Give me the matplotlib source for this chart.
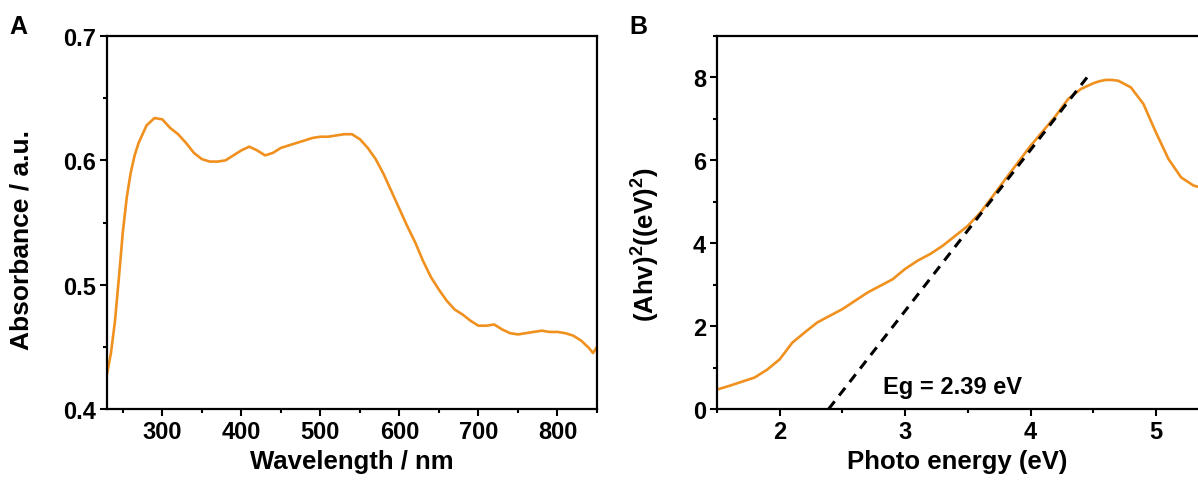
import matplotlib
matplotlib.use('Agg')
from matplotlib import pyplot as plt
from matplotlib.ticker import MultipleLocator

plt.rcParams['font.family'] = ['Liberation Sans', 'DejaVu Sans']
plt.rcParams['font.weight'] = 'bold'
plt.rcParams['mathtext.fontset'] = 'custom'
plt.rcParams['mathtext.rm'] = 'Liberation Sans:bold'
plt.rcParams['mathtext.bf'] = 'Liberation Sans:bold'

# panel A: UV-vis absorbance
wavelength = [230, 235, 240, 245, 250, 255, 260, 265, 270, 280, 290, 300, 310, 320, 330, 340,
              350, 360, 370, 380, 390, 400, 410, 420, 430, 440, 450, 460, 470, 480,
              490, 500, 510, 520, 530, 540, 550, 560, 570, 580, 590, 600, 610, 620,
              630, 640, 650, 660, 670, 680, 690, 700, 710, 720, 730, 740, 750, 760,
              770, 780, 790, 800, 810, 820, 830, 840, 845, 850]
absorbance = [0.428, 0.445, 0.47, 0.505, 0.542, 0.570, 0.590, 0.604, 0.614, 0.628, 0.634, 0.633,
              0.626, 0.621, 0.614, 0.606, 0.601, 0.599, 0.599, 0.600, 0.604, 0.608,
              0.611, 0.608, 0.604, 0.606, 0.610, 0.612, 0.614, 0.616, 0.618, 0.619,
              0.619, 0.620, 0.621, 0.621, 0.617, 0.610, 0.601, 0.589, 0.575, 0.561,
              0.547, 0.534, 0.519, 0.506, 0.496, 0.487, 0.480, 0.476, 0.471, 0.467,
              0.467, 0.468, 0.464, 0.461, 0.460, 0.461, 0.462, 0.463, 0.462, 0.462,
              0.461, 0.459, 0.455, 0.449, 0.445, 0.450]

# panel B: Tauc plot
energy = [1.5, 1.6, 1.7, 1.8, 1.9, 2.0, 2.1, 2.2, 2.3, 2.4, 2.5, 2.6, 2.7, 2.8, 2.9,
          3.0, 3.1, 3.2, 3.3, 3.4, 3.5, 3.6, 3.7, 3.8, 3.9, 4.0, 4.1, 4.2, 4.3, 4.4,
          4.5, 4.55, 4.6, 4.65, 4.7, 4.8, 4.9, 5.0, 5.1, 5.2, 5.3, 5.34]
tauc = [0.47, 0.56, 0.66, 0.76, 0.95, 1.2, 1.6, 1.85, 2.09, 2.25, 2.41, 2.61, 2.81,
        2.97, 3.13, 3.38, 3.58, 3.74, 3.94, 4.18, 4.42, 4.74, 5.14, 5.55, 5.95, 6.35,
        6.71, 7.07, 7.48, 7.72, 7.86, 7.91, 7.94, 7.94, 7.92, 7.76, 7.36, 6.67, 6.03,
        5.59, 5.39, 5.36]
fit_x = [2.39, 4.45]
fit_y = [0.0, 8.0]

orange = '#f0901e'

fig = plt.figure(figsize=(11.98, 4.85), dpi=100)
axA = fig.add_axes([0.0893, 0.1546, 0.409, 0.7691])
axB = fig.add_axes([0.5985, 0.1546, 0.4015, 0.7691])

for ax in (axA, axB):
    for s in ax.spines.values():
        s.set_linewidth(1.6)
    ax.tick_params(which='major', direction='out', length=5, width=1.5, labelsize=17, pad=3)
    ax.tick_params(which='minor', direction='out', length=3, width=1.5)

axA.plot(wavelength, absorbance, color=orange, lw=1.9)
axA.set_xlim(230, 850)
axA.set_ylim(0.4, 0.7)
axA.set_xticks([300, 400, 500, 600, 700, 800])
axA.xaxis.set_minor_locator(MultipleLocator(50))
axA.set_yticks([0.4, 0.5, 0.6, 0.7])
axA.yaxis.set_minor_locator(MultipleLocator(0.05))
axA.set_xlabel('Wavelength / nm', fontsize=18.5, fontweight='bold', labelpad=4)
axA.set_ylabel('Absorbance / a.u.', fontsize=19, fontweight='bold')
axA.yaxis.set_label_coords(-0.149, 0.456)
fig.text(0.008, 0.945, 'A', fontsize=18, fontweight='bold', va='center')

axB.plot(energy, tauc, color=orange, lw=1.9)
axB.plot(fit_x, fit_y, color='black', lw=2.2, ls=(0, (3.2, 2.4)))
axB.set_xlim(1.5, 5.335)
axB.set_ylim(0, 9)
axB.set_xticks([2, 3, 4, 5])
axB.xaxis.set_minor_locator(MultipleLocator(0.5))
axB.set_yticks([0, 2, 4, 6, 8])
axB.yaxis.set_minor_locator(MultipleLocator(1))
axB.spines['right'].set_visible(False)
axB.set_xlabel('Photo energy (eV)', fontsize=18.5, fontweight='bold', labelpad=4)
axB.set_ylabel(r'(Ahv)$^{\mathbf{2}}$((eV)$^{\mathbf{2}}$)', fontsize=18.5,
               fontweight='bold')
axB.yaxis.set_label_coords(-0.117, 0.442)
axB.text(2.82, 0.55, 'Eg = 2.39 eV', fontsize=17, fontweight='bold', va='center')
fig.text(0.525, 0.945, 'B', fontsize=18, fontweight='bold', va='center')

fig.savefig('out.png', dpi=100)
